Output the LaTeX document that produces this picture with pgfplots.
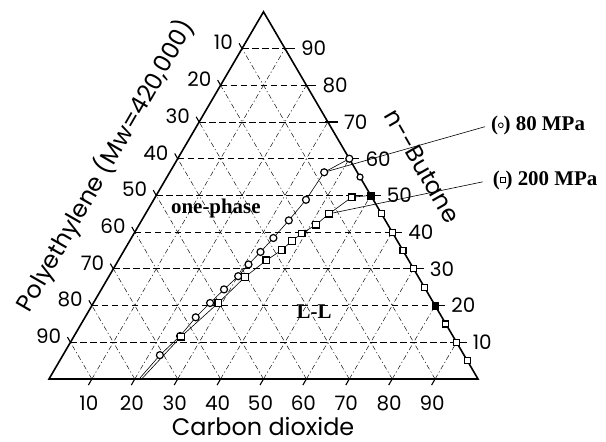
\documentclass[border=0pt]{standalone}
\usepackage{fontspec}
\usepackage{pgfplots}
\pgfplotsset{compat=1.18}
\usepackage{pgfplotstable}
\newfontfamily\gsans{Poppins}
\newfontfamily\tbold{Liberation Serif}

% ternary mapping: x = CO2 + butane/2, y = butane * sqrt(3)/2
\pgfplotsset{table/tern/.style={x expr=\thisrow{co2}+0.5*\thisrow{but}, y expr=0.866*\thisrow{but}}}
\tikzset{
  hgrid/.style={line width=0.85bp, dash pattern=on 6.5bp off 3.5bp},
  sgrid/.style={line width=0.45bp, dash pattern=on 5bp off 2.5bp on 1.2bp off 2.5bp},
  ticklab/.style={font=\gsans\fontsize{20}{20}\selectfont, inner sep=0pt},
  boldlab/.style={font=\tbold\bfseries\fontsize{21}{21}\selectfont},
}

% ternary data: CO2 and n-butane (wt%), polyethylene = 100 - CO2 - butane
\pgfplotstableread{
co2  but
21.0 0
22.6 6.5
24.7 11.7
25.8 16.8
27.2 20.7
28.6 24.4
30.1 28.0
30.9 31.2
32.0 34.6
33.1 38.4
34.3 43.2
35.5 48.8
36.0 56.3
40.0 60.0
}\lowP

\pgfplotstableread{
co2  but
21.6 0
25.0 11.5
29.1 20.7
31.8 27.8
34.5 32.3
36.7 35.1
37.8 37.6
39.1 39.6
41.2 42.0
42.8 45.0
45.8 49.5
50.0 50.0
}\highP

% CO2 / n-butane binary edge
\pgfplotstableread{
co2 but
95 5
90 10
85 15
75 25
70 30
65 35
60 40
55 45
}\edgeSq

\pgfplotstableread{
co2 but
80 20
50 50
}\edgeFill

\pgfplotstableread{
co2 but
45 55
}\edgeCi

\begin{document}
\begin{tikzpicture}
\path[use as bounding box] (0,0) rectangle (606bp,442bp);
\begin{axis}[
  hide axis, clip=false,
  x=4.29bp, y=4.24bp,
  xmin=0, xmax=100, ymin=0, ymax=86.6,
  anchor=south west, at={(49bp,63bp)},
]
% grid
\pgfplotsinvokeforeach{10,20,...,90}{
  \draw[hgrid] (axis cs:{#1/2},{0.866*#1}) -- (axis cs:{100-#1/2},{0.866*#1});
  \draw[sgrid] (axis cs:#1,0) -- (axis cs:{#1+(100-#1)/2},{0.866*(100-#1)});
  \draw[sgrid] (axis cs:{100-#1},0) -- (axis cs:{(100-#1)/2},{0.866*(100-#1)});
  % ticks
  \draw[line width=1.1bp] (axis cs:#1,0) -- ++(-120:7bp);
  \draw[line width=1.1bp] (axis cs:{(100-#1)/2},{0.866*(100-#1)}) -- ++(120:6bp);
  \draw[line width=1.1bp] (axis cs:{100-#1/2},{0.866*#1}) ++(-3bp,0) -- ++(13bp,0);
  % tick labels
  \node[ticklab] at (axis cs:#1,0) [xshift=-3bp, yshift=-24bp] {#1};
  \node[ticklab, anchor=east]
    at (axis cs:{(100-#1)/2},{0.866*(100-#1)}) [xshift=-9bp, yshift=6bp] {#1};
  \node[ticklab, anchor=west]
    at (axis cs:{100-#1/2},{0.866*#1}) [xshift=16bp] {#1};
}
% triangle
\draw[line width=1.6bp, line join=miter] (axis cs:0,0) -- (axis cs:100,0) -- (axis cs:50,86.6) -- cycle;

% leader lines
\draw[line width=0.6bp] (axis cs:64.15,48.76) -- (axis cs:101.6,59.5);
\draw[line width=0.6bp] (axis cs:65.3,38.97) -- (axis cs:101.1,46.5);

% phase boundaries
\addplot[no marks, line width=0.6bp] table[tern] {\lowP};
\addplot[no marks, line width=0.6bp] table[tern] {\highP};
\addplot[only marks, mark=*, mark size=3.5bp, mark options={fill=white, draw=black, line width=1.2bp},
  skip coords between index={0}{1}] table[tern] {\lowP};
\addplot[only marks, mark=square*, mark size=3.3bp, mark options={fill=white, draw=black, line width=1.2bp},
  skip coords between index={0}{1}] table[tern] {\highP};
\addplot[only marks, mark=square*, mark size=3.0bp, mark options={fill=white, draw=black, line width=1.2bp}] table[tern] {\edgeSq};
\addplot[only marks, mark=square*, mark size=3.4bp, mark options={fill=black, draw=black}] table[tern] {\edgeFill};
\addplot[only marks, mark=*, mark size=3.0bp, mark options={fill=white, draw=black, line width=1.2bp}] table[tern] {\edgeCi};

% labels
\node[font=\gsans\fontsize{24}{24}\selectfont, inner sep=0pt] at (axis cs:49.9,-11.3) {Carbon dioxide};
\node[font=\gsans\fontsize{24}{24}\selectfont, rotate=60, inner sep=0pt] at (axis cs:13.1,50.3) {Polyethylene (Mw=420,000)};
\node[font=\gsans\fontsize{24}{24}\selectfont, rotate=-60, inner sep=0pt] at (axis cs:87.0,50.2) {n--Butane};
\node[boldlab, inner sep=1pt] at (axis cs:38.9,40.3) {one-phase};
\node[boldlab, inner sep=1pt] at (axis cs:61.8,15.9) {L-L};
\node[boldlab, anchor=west, inner sep=0pt] at (axis cs:103.0,59.9)
  {(\tikz[baseline=-0.5ex]\draw[line width=0.8bp] (0,0) circle (2.4bp);) 80 MPa};
\node[boldlab, anchor=west, inner sep=0pt] at (axis cs:103.4,46.9)
  {(\tikz[baseline=-0.5ex]\draw[line width=0.8bp] (-2.5bp,-2.5bp) rectangle (2.5bp,2.5bp);) 200 MPa};
\end{axis}
\end{tikzpicture}
\end{document}
